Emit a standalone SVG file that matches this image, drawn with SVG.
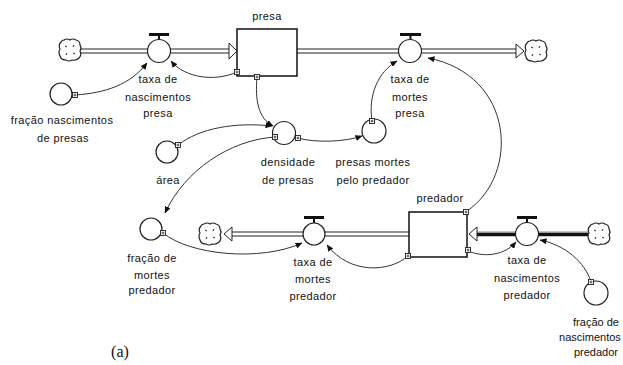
<svg xmlns="http://www.w3.org/2000/svg" width="623" height="365" viewBox="0 0 623 365">
<style>
.t{font-family:"Liberation Sans",Arial,sans-serif;font-size:11px;fill:#111;text-anchor:middle;letter-spacing:0.4px}
.pipeo{fill:none;stroke:#222;stroke-width:5}
.pipei{fill:none;stroke:#fff;stroke-width:3}
.con{fill:none;stroke:#333;stroke-width:1;marker-end:url(#ah)}
.aux{fill:#fff;stroke:#222;stroke-width:1.2}
.stock{fill:#fff;stroke:#111;stroke-width:1.5}
.valve{fill:#fff;stroke:#222;stroke-width:1.2}
.bar{fill:#111}
.head{fill:#fff;stroke:#222;stroke-width:1}
.sq{fill:#fff;stroke:#222;stroke-width:0.9}
</style>
<defs>
<marker id="ah" markerWidth="7" markerHeight="6" refX="6.5" refY="3" orient="auto" markerUnits="userSpaceOnUse">
<path d="M0,0 L7,3 L0,6 z" fill="#111"/>
</marker>
<symbol id="cloud" viewBox="-12 -12 24 24" overflow="visible">
<path d="M-6,-10 Q-3,-12 0,-10 Q3,-12 6,-10 Q10,-9 10,-5 Q12,-2 10,1 Q12,5 9,8 Q6,11 2,10 Q-1,12 -4,10 Q-9,10 -10,6 Q-12,2 -10,-1 Q-12,-5 -9,-8 Q-8,-10 -6,-10 z" fill="#fff" stroke="#222" stroke-width="1.2"/>
<path d="M-5,-4 l2,1 M4,-5 l-1,2 M5,4 l-2,-1 M-4,5 l1,-2" stroke="#222" stroke-width="1"/>
</symbol>
<symbol id="sqm" viewBox="-3 -3 6 6" overflow="visible">
<rect x="-2.5" y="-2.5" width="5" height="5" class="sq"/>
<path d="M-1.5,0 h3 M0,-1.5 v3" stroke="#222" stroke-width="0.8"/>
</symbol>
</defs>

<g id="pipes">
<path class="pipeo" d="M81,51 H229 M297,51 H516"/>
<path class="pipei" d="M81,51 H229 M297,51 H516"/>
<path class="pipeo" d="M232,234 H409"/>
<path class="pipei" d="M232,234 H409"/>
<path d="M477,234 H588" fill="none" stroke="#111" stroke-width="4.5"/>
<path d="M477,232.5 H588" fill="none" stroke="#999" stroke-width="1"/>
</g>

<g id="presa">
<rect class="stock" x="237" y="29" width="60" height="47"/>
<text class="t" x="267" y="20">presa</text>
</g>
<g id="predador">
<rect class="stock" x="409" y="212" width="58" height="45"/>
<text class="t" x="440" y="202">predador</text>
</g>

<g id="cloud-presa-in"><use href="#cloud" x="58" y="38" width="24" height="24"/></g>
<g id="cloud-presa-out"><use href="#cloud" x="524" y="39" width="24" height="24"/></g>
<g id="cloud-pred-out"><use href="#cloud" x="198" y="222" width="24" height="24"/></g>
<g id="cloud-pred-in"><use href="#cloud" x="587" y="222" width="24" height="24"/></g>

<g id="pipe-heads">
<path class="head" d="M229,43 L237,51 L229,59 z"/>
<path class="head" d="M516,44 L524,51 L516,58 z"/>
<path class="head" d="M232,227 L224,234 L232,241 z"/>
<path class="head" d="M477,227 L469,234 L477,241 z"/>
</g>

<g id="taxa-nascimentos-presa">
<rect class="bar" x="149" y="33" width="20" height="3"/>
<rect class="bar" x="158" y="36" width="2" height="4"/>
<circle class="valve" cx="159" cy="51" r="11.5"/>
<text class="t" x="158" y="83">taxa de</text>
<text class="t" x="158" y="101">nascimentos</text>
<text class="t" x="158" y="117">presa</text>
</g>

<g id="taxa-mortes-presa">
<rect class="bar" x="400" y="33" width="21" height="3"/>
<rect class="bar" x="409.5" y="36" width="2" height="4"/>
<circle class="valve" cx="410" cy="51" r="11.5"/>
<text class="t" x="410" y="83">taxa de</text>
<text class="t" x="410" y="101">mortes</text>
<text class="t" x="410" y="117">presa</text>
</g>

<g id="taxa-mortes-predador">
<rect class="bar" x="304" y="216" width="20" height="3"/>
<rect class="bar" x="313" y="219" width="2" height="4"/>
<circle class="valve" cx="314" cy="234" r="11"/>
<text class="t" x="313" y="266">taxa de</text>
<text class="t" x="313" y="283">mortes</text>
<text class="t" x="313" y="300">predador</text>
</g>

<g id="taxa-nascimentos-predador">
<rect class="bar" x="517" y="216" width="20" height="3"/>
<rect class="bar" x="526" y="219" width="2" height="4"/>
<circle class="valve" cx="527" cy="234" r="11.5"/>
<text class="t" x="527" y="264">taxa de</text>
<text class="t" x="527" y="282">nascimentos</text>
<text class="t" x="527" y="299">predador</text>
</g>

<g id="fracao-nascimentos-presas">
<circle class="aux" cx="61" cy="94" r="11"/>
<text class="t" x="62" y="124">fração nascimentos</text>
<text class="t" x="63" y="142">de presas</text>
</g>

<g id="area">
<circle class="aux" cx="167" cy="152" r="11"/>
<text class="t" x="168" y="184">área</text>
</g>

<g id="densidade-de-presas">
<circle class="aux" cx="284" cy="133" r="11.5"/>
<text class="t" x="288" y="166">densidade</text>
<text class="t" x="288" y="184">de presas</text>
</g>

<g id="presas-mortes-pelo-predador">
<circle class="aux" cx="374" cy="131" r="12"/>
<text class="t" x="373" y="166">presas mortes</text>
<text class="t" x="373" y="184">pelo predador</text>
</g>

<g id="fracao-mortes-predador">
<circle class="aux" cx="151" cy="229" r="11"/>
<text class="t" x="152" y="262">fração de</text>
<text class="t" x="152" y="279">mortes</text>
<text class="t" x="152" y="294">predador</text>
</g>

<g id="fracao-nascimentos-predador">
<circle class="aux" cx="596" cy="293" r="12"/>
<text class="t" x="596" y="326" style="letter-spacing:0">fração de</text>
<text class="t" x="590" y="341" style="letter-spacing:0">nascimentos</text>
<text class="t" x="596" y="356" style="letter-spacing:0">predador</text>
</g>

<g id="connectors">
<path class="con" d="M237,72 C215,82 185,78 171,61"/>
<path class="con" d="M75,95 C105,93 130,85 147,63"/>
<path class="con" d="M257,77 C255,100 258,118 273,126"/>
<path class="con" d="M178,145 C200,128 235,122 272,126"/>
<path class="con" d="M275,137 C230,140 185,170 165,213"/>
<path class="con" d="M298,138 C315,143 345,142 362,136"/>
<path class="con" d="M372,121 C368,95 378,72 397,61"/>
<path class="con" d="M467,211 C520,175 515,75 428,58"/>
<path class="con" d="M163,233 C190,255 260,262 302,243"/>
<path class="con" d="M408,256 C390,272 350,275 327,245"/>
<path class="con" d="M468,251 C485,258 505,255 516,242"/>
<path class="con" d="M591,282 C585,262 565,245 540,240"/>
<use href="#sqm" x="234" y="69" width="6" height="6"/>
<use href="#sqm" x="254" y="74" width="6" height="6"/>
<use href="#sqm" x="72" y="92" width="6" height="6"/>
<use href="#sqm" x="175" y="142" width="6" height="6"/>
<use href="#sqm" x="272" y="134" width="6" height="6"/>
<use href="#sqm" x="295" y="135" width="6" height="6"/>
<use href="#sqm" x="369" y="118" width="6" height="6"/>
<use href="#sqm" x="463" y="209" width="6" height="6"/>
<use href="#sqm" x="405" y="253" width="6" height="6"/>
<use href="#sqm" x="465" y="247" width="6" height="6"/>
<use href="#sqm" x="160" y="230" width="6" height="6"/>
<use href="#sqm" x="588" y="279" width="6" height="6"/>
</g>

<text x="120" y="357" font-family="'Liberation Serif','Times New Roman',serif" font-size="16" fill="#111" text-anchor="middle">(a)</text>
</svg>
